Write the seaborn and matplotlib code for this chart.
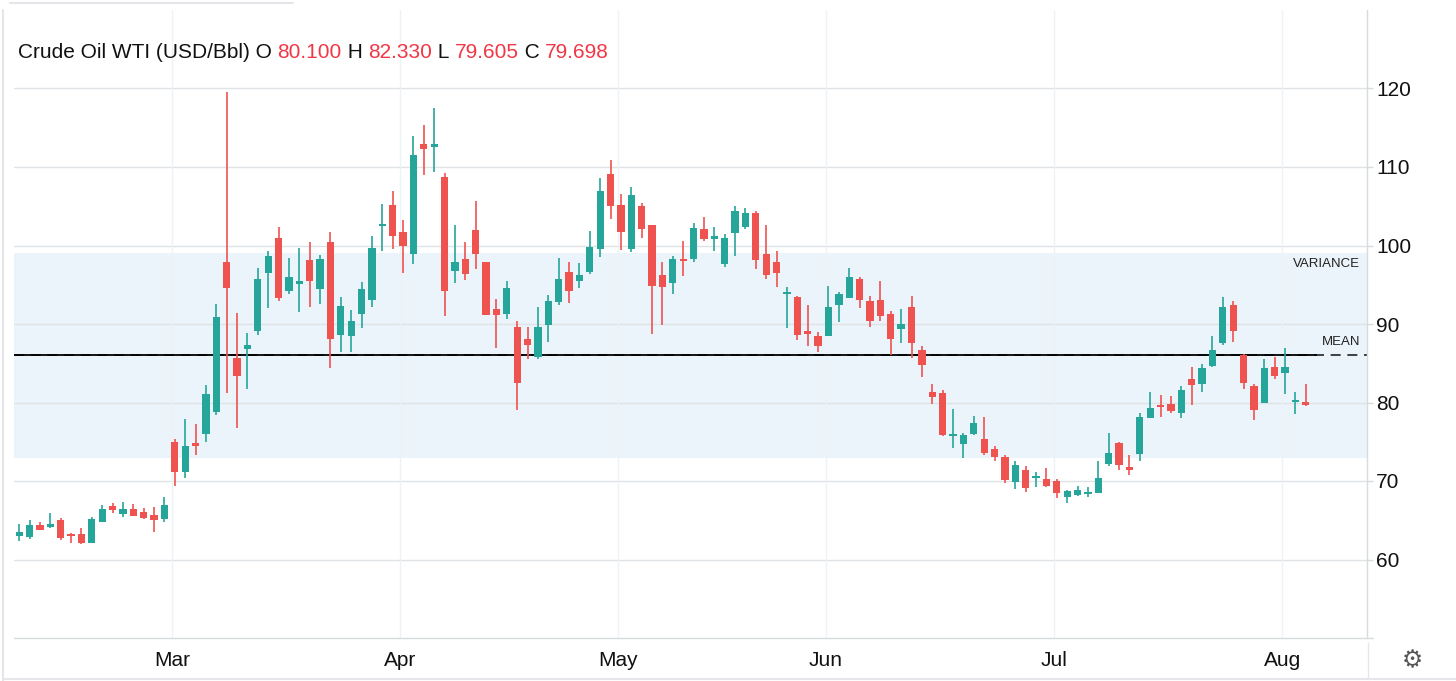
import matplotlib
matplotlib.use("Agg")
import matplotlib.pyplot as plt
import matplotlib.transforms as mtransforms
from matplotlib.lines import Line2D
import numpy as np
import pandas as pd
import seaborn as sns

# daily candles (one per trading day)
opens = [63.05, 62.84, 64.41, 64.12, 64.97, 63.14, 63.31, 62.12, 64.84, 66.79,
         65.77, 66.37, 66.03, 65.69, 65.18, 75.03, 71.13, 74.73, 76.00, 78.85,
         97.88, 85.69, 86.84, 89.17, 96.52, 100.98, 94.18, 95.12, 98.09, 94.40,
         100.43, 88.62, 88.45, 91.29, 93.12, 102.46, 105.10, 101.70, 98.90, 112.87,
         112.53, 108.71, 96.73, 98.26, 102.00, 97.92, 91.93, 91.30, 89.60, 88.11,
         85.78, 89.90, 92.78, 96.60, 95.46, 96.60, 99.58, 109.05, 105.10, 99.57,
         104.97, 102.55, 96.30, 95.24, 98.17, 98.30, 102.04, 100.85, 97.58, 101.61,
         102.42, 104.12, 98.94, 97.88, 93.76, 93.42, 89.09, 88.53, 88.45, 92.44,
         93.33, 95.75, 92.87, 93.08, 91.30, 89.39, 92.15, 86.63, 81.32, 81.19,
         75.71, 74.74, 76.01, 75.37, 74.10, 73.04, 69.85, 71.42, 70.40, 70.28,
         69.98, 67.94, 68.28, 68.36, 68.49, 72.19, 74.86, 71.76, 73.46, 78.05,
         79.70, 79.83, 78.68, 82.93, 82.38, 84.63, 87.56, 92.48, 85.99, 82.04,
         79.91, 84.58, 83.73, 80.04, 80.100]
highs = [64.54, 64.97, 64.80, 65.86, 65.26, 63.39, 64.07, 65.47, 66.96, 67.17,
         67.30, 67.13, 66.62, 66.75, 67.90, 75.37, 77.92, 77.20, 82.17, 92.49,
         119.53, 91.42, 88.88, 97.16, 99.36, 102.42, 98.43, 99.70, 100.43, 98.85,
         101.70, 93.42, 91.80, 95.41, 101.15, 105.31, 106.92, 103.31, 113.93, 115.37,
         117.54, 109.26, 102.64, 100.43, 105.65, 97.95, 93.21, 95.42, 90.32, 89.60,
         92.15, 93.72, 98.43, 97.96, 97.75, 101.91, 108.54, 110.91, 106.58, 107.51,
         105.43, 102.67, 97.96, 98.64, 100.51, 102.84, 103.69, 102.42, 101.48, 105.09,
         104.80, 104.37, 102.55, 99.36, 94.69, 93.63, 92.48, 89.04, 94.90, 94.06,
         97.15, 95.97, 93.63, 95.42, 91.64, 91.85, 93.63, 87.26, 82.38, 81.53,
         79.19, 76.14, 78.34, 78.13, 74.52, 73.25, 72.53, 71.85, 71.13, 71.64,
         70.28, 68.79, 69.30, 69.21, 72.53, 76.13, 75.03, 73.25, 78.64, 81.40,
         80.97, 80.81, 82.04, 84.58, 84.92, 88.53, 93.50, 92.87, 86.20, 82.38,
         85.48, 85.77, 86.92, 81.31, 82.330]
lows = [62.33, 62.63, 63.70, 64.05, 62.50, 62.12, 62.00, 62.05, 64.80, 65.94,
        65.39, 65.52, 65.14, 63.56, 64.75, 69.34, 70.40, 73.25, 75.03, 78.35,
        81.19, 76.73, 81.74, 88.54, 92.02, 92.91, 93.84, 91.51, 92.15, 92.49,
        84.42, 86.41, 86.41, 89.51, 92.15, 99.36, 99.58, 96.52, 97.58, 108.92,
        109.34, 91.08, 95.25, 95.63, 97.03, 91.10, 86.97, 90.58, 79.07, 85.56,
        85.56, 87.69, 92.44, 92.70, 94.57, 96.39, 98.52, 103.40, 99.45, 99.23,
        100.97, 88.75, 89.85, 93.76, 96.09, 97.96, 100.63, 99.36, 97.24, 98.64,
        102.04, 97.03, 95.75, 94.69, 89.47, 87.90, 87.17, 86.41, 88.45, 90.23,
        93.33, 92.06, 89.68, 90.36, 85.99, 87.56, 85.69, 83.23, 79.83, 75.67,
        74.18, 72.91, 75.80, 73.33, 72.61, 69.72, 68.92, 68.58, 69.22, 69.22,
        67.86, 67.18, 68.15, 67.94, 68.45, 71.89, 71.46, 70.78, 72.61, 78.00,
        78.13, 78.68, 78.00, 79.62, 81.40, 84.50, 87.34, 87.68, 81.74, 77.79,
        79.91, 82.93, 81.02, 78.55, 79.605]
closes = [63.48, 64.41, 63.78, 64.54, 62.72, 62.93, 62.12, 65.14, 66.37, 66.28,
          66.37, 65.56, 65.35, 65.01, 66.92, 71.13, 74.52, 74.52, 81.02, 90.87,
          94.57, 83.36, 87.35, 95.75, 98.64, 93.29, 96.05, 95.37, 95.46, 98.22,
          88.11, 92.27, 90.32, 94.48, 99.70, 102.76, 101.19, 99.92, 111.59, 112.23,
          112.87, 94.18, 97.92, 96.31, 98.90, 91.17, 91.17, 94.61, 82.51, 87.35,
          89.60, 92.87, 95.76, 94.18, 96.27, 99.87, 106.88, 105.01, 101.78, 106.37,
          102.08, 94.90, 94.69, 98.30, 98.00, 102.21, 100.85, 101.14, 100.97, 104.37,
          104.20, 98.17, 96.18, 96.47, 93.97, 88.62, 88.75, 87.17, 92.14, 93.76,
          95.96, 93.00, 90.36, 91.08, 88.03, 90.02, 87.56, 84.80, 80.68, 75.92,
          76.01, 75.80, 77.37, 73.59, 73.12, 70.19, 71.98, 69.13, 70.70, 69.34,
          68.45, 68.71, 68.79, 68.58, 70.36, 73.59, 72.06, 71.34, 78.13, 79.32,
          79.40, 78.89, 81.65, 82.29, 84.37, 86.71, 92.14, 89.17, 82.50, 79.07,
          84.37, 83.35, 84.58, 80.25, 79.698]

# first trading day of each month (candle index)
month_labels = ["Mar", "Apr", "May", "Jun", "Jul", "Aug"]
month_starts = [15, 37, 58, 78, 100, 122]

y_ticks = [60, 70, 80, 90, 100, 110, 120]

# overlay levels
mean_level = 86.0
band_low = 72.9
band_high = 99.0

UP = "#26a69a"
DOWN = "#ef5350"
HEAD_RED = "#f23645"
GRID = "#e0e3e6"
VGRID = "#eef1f5"
FRAME = "#d6dcde"

df = pd.DataFrame({"open": opens, "high": highs, "low": lows, "close": closes})
df["idx"] = np.arange(len(df))
df["up"] = df["close"] >= df["open"]
df["color"] = np.where(df["up"], UP, DOWN)
df["body_lo"] = df[["open", "close"]].min(axis=1)
df["body_h"] = (df["close"] - df["open"]).abs().clip(lower=0.3)

sns.set_theme(style="white")
plt.rcParams["font.family"] = ["Liberation Sans", "DejaVu Sans"]

W, H = 1456, 681
fig = plt.figure(figsize=(W / 100, H / 100), dpi=100)
ax = fig.add_axes([14 / W, 43 / H, 1353 / W, 628 / H])

# variance band + mean
ax.axhspan(band_low, band_high, color="#ebf4fa", zorder=0, lw=0)
ax.axhline(mean_level, color="#222222", lw=1.2, dashes=(6, 4), zorder=1)
ax.hlines(mean_level, df["idx"].iloc[0] - 0.5, df["idx"].iloc[-1] + 1.1,
          color="black", lw=1.3, zorder=1)

# candles
ax.vlines(df["idx"], df["low"], df["high"], colors=df["color"], lw=1.2, zorder=3)
ax.bar(df["idx"], df["body_h"], bottom=df["body_lo"], width=0.7,
       color=df["color"], lw=0, zorder=4)

ax.set_xlim(-0.5, 129.9)
ax.set_ylim(50, 130)

month_pos = [m - 0.25 for m in month_starts]
ax.set_yticks(y_ticks)
ax.yaxis.tick_right()
ax.set_xticks(month_pos)
ax.set_xticklabels(month_labels)
ax.tick_params(axis="y", which="both", right=True, left=False, length=4.5,
               width=1, color=FRAME, labelsize=15, pad=2, labelcolor="#111111")
ax.tick_params(axis="x", length=0, labelsize=15, pad=9, labelcolor="#111111")

ax.grid(False)
for v in y_ticks:
    ax.axhline(v, color=GRID, lw=1, zorder=0.5)
for m in month_pos:
    ax.axvline(m, color=VGRID, lw=1, zorder=0.5)

for side in ["top", "left"]:
    ax.spines[side].set_visible(False)
for side in ["right", "bottom"]:
    ax.spines[side].set_color(FRAME)
    ax.spines[side].set_linewidth(1)

# band labels
tr = mtransforms.blended_transform_factory(ax.transAxes, ax.transData)
ax.text(0.9948, band_high - 1.3, "VARIANCE", transform=tr, ha="right",
        va="center", fontsize=9.5, color="#222222")
ax.text(0.9948, mean_level + 1.65, "MEAN", transform=tr, ha="right",
        va="center", fontsize=9.5, color="#222222")

# header with last candle values
last = df.iloc[-1]
pieces = [("Crude Oil WTI (USD/Bbl) O ", "#111111"), (f"{last['open']:.3f}", HEAD_RED),
          (" H ", "#111111"), (f"{last['high']:.3f}", HEAD_RED),
          (" L ", "#111111"), (f"{last['low']:.3f}", HEAD_RED),
          (" C ", "#111111"), (f"{last['close']:.3f}", HEAD_RED)]
t = fig.text(18 / W, 1 - 53 / H, pieces[0][0], color=pieces[0][1],
             fontsize=15, va="center", ha="left")
for txt, col in pieces[1:]:
    t = ax.annotate(txt, xy=(1, 0), xycoords=t, va="bottom", ha="left",
                    fontsize=15, color=col, annotation_clip=False)

# surrounding frame of the widget
fig.add_artist(Line2D([3 / W, 3 / W], [0, 1 - 10 / H], color="#e4e6ea", lw=1.5))
fig.add_artist(Line2D([10 / W, 293 / W], [1 - 3 / H, 1 - 3 / H], color="#e4e6ea", lw=1.5))
fig.add_artist(Line2D([3 / W, 1], [1 - 679 / H, 1 - 679 / H], color="#e4e6ea", lw=1.5))
fig.add_artist(Line2D([1367 / W, 1373 / W], [43 / H, 43 / H], color=FRAME, lw=1))
fig.add_artist(Line2D([1368 / W, 1368 / W], [2 / H, 38 / H], color="#e4e6ea", lw=1))
fig.text(1412 / W, 1 - 660 / H, "\u2699", fontsize=17, color="#555555",
         ha="center", va="center", family=["DejaVu Sans"])

fig.savefig("out.png", dpi=100)
